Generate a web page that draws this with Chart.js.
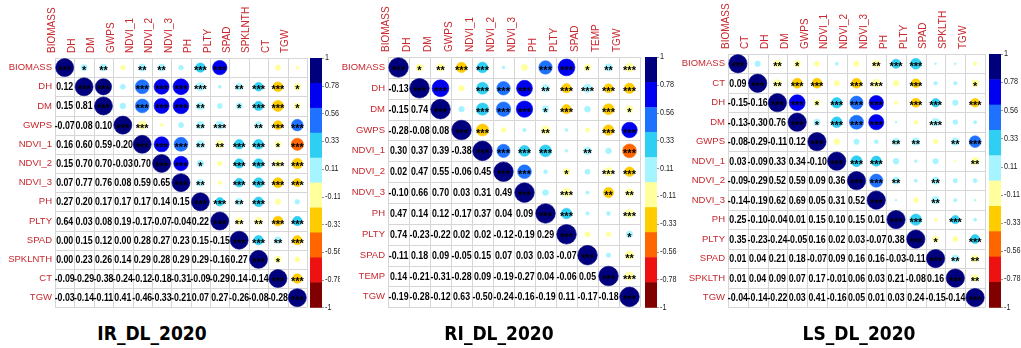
<!DOCTYPE html>
<html>
<head>
<meta charset="utf-8">
<script src="https://cdn.jsdelivr.net/npm/chart.js@4.4.0/dist/chart.umd.min.js"></script>
<style>
  html, body { margin: 0; padding: 0; background: #fff; }
  body { width: 1021px; height: 348px; position: relative; overflow: hidden; font-family: 'Liberation Sans', Arial, sans-serif; }
  .panel { position: absolute; top: 0; height: 316px; }
  .title { position: absolute; top: 322px; width: 200px; text-align: center; line-height: 26px;
           font: bold 19px 'Liberation Sans Narrow', 'DejaVu Sans Condensed', Arial, sans-serif; color: #000; }
</style>
</head>
<body>
<div class="panel" style="left:0;width:340px"><canvas id="chartIR"></canvas></div>
<div class="panel" style="left:330px;width:350px"><canvas id="chartRI"></canvas></div>
<div class="panel" style="left:680px;width:341px"><canvas id="chartLS"></canvas></div>
<div class="title" style="left:52px">IR_DL_2020</div>
<div class="title" style="left:399px">RI_DL_2020</div>
<div class="title" style="left:759px">LS_DL_2020</div>

<script>
// ---- IR_DL_2020 ----
const varsIR = ['BIOMASS', 'DH', 'DM', 'GWPS', 'NDVI_1', 'NDVI_2', 'NDVI_3', 'PH', 'PLTY', 'SPAD', 'SPKLNTH', 'CT', 'TGW'];
// lower triangle, row i holds correlations with columns 0..i-1
const corrIR = [
  [],
  [0.12],
  [0.15, 0.81],
  [-0.07, 0.08, 0.10],
  [0.16, 0.60, 0.59, -0.20],
  [0.15, 0.70, 0.70, -0.03, 0.70],
  [0.07, 0.77, 0.76, 0.08, 0.59, 0.65],
  [0.27, 0.20, 0.17, 0.17, 0.17, 0.14, 0.15],
  [0.64, 0.03, 0.08, 0.19, -0.17, -0.07, -0.04, 0.22],
  [0.00, 0.15, 0.12, 0.00, 0.28, 0.27, 0.23, 0.15, -0.15],
  [0.00, 0.23, 0.26, 0.14, 0.29, 0.28, 0.29, 0.29, -0.16, 0.27],
  [-0.09, -0.29, -0.38, -0.24, -0.12, -0.18, -0.31, -0.09, -0.29, 0.14, -0.14],
  [-0.03, -0.14, -0.11, 0.41, -0.46, -0.33, -0.21, 0.07, 0.27, -0.26, -0.08, -0.28]
];
// significance stars, upper triangle, row i holds columns i+1..n-1
const starsIR = [
  ['*', '**', '', '**', '**', '', '***', '***', '', '', '', ''],
  ['***', '', '***', '***', '***', '***', '', '**', '***', '***', '*'],
  ['', '***', '***', '***', '**', '', '*', '***', '***', '*'],
  ['***', '', '', '**', '***', '', '**', '***', '***'],
  ['***', '***', '**', '**', '***', '***', '*', '***'],
  ['***', '*', '', '***', '***', '***', '***'],
  ['**', '', '***', '***', '***', '***'],
  ['***', '**', '***', '', ''],
  ['**', '**', '***', '***'],
  ['***', '**', '***'],
  ['*', ''],
  ['***'],
  []
];

// ---- RI_DL_2020 ----
const varsRI = ['BIOMASS', 'DH', 'DM', 'GWPS', 'NDVI_1', 'NDVI_2', 'NDVI_3', 'PH', 'PLTY', 'SPAD', 'TEMP', 'TGW'];
const corrRI = [
  [],
  [-0.13],
  [-0.15, 0.74],
  [-0.28, -0.08, 0.08],
  [0.30, 0.37, 0.39, -0.38],
  [0.02, 0.47, 0.55, -0.06, 0.45],
  [-0.10, 0.66, 0.70, 0.03, 0.31, 0.49],
  [0.47, 0.14, 0.12, -0.17, 0.37, 0.04, 0.09],
  [0.74, -0.23, -0.22, 0.02, 0.02, -0.12, -0.19, 0.29],
  [-0.11, 0.18, 0.09, -0.05, 0.15, 0.07, 0.03, 0.03, -0.07],
  [0.14, -0.21, -0.31, -0.28, 0.09, -0.19, -0.27, 0.04, -0.06, 0.05],
  [-0.19, -0.28, -0.12, 0.63, -0.50, -0.24, -0.16, -0.19, 0.11, -0.17, -0.18]
];
const starsRI = [
  ['*', '**', '***', '***', '', '', '***', '***', '*', '**', '***'],
  ['***', '', '***', '***', '***', '**', '***', '***', '***', '***'],
  ['', '***', '***', '***', '*', '***', '', '***', '*'],
  ['***', '', '', '**', '', '', '***', '***'],
  ['***', '***', '***', '', '**', '', '***'],
  ['***', '', '*', '', '***', '***'],
  ['', '***', '', '**', '**'],
  ['***', '', '', '***'],
  ['', '', '*'],
  ['', '**'],
  ['***'],
  []
];

// ---- LS_DL_2020 ----
const varsLS = ['BIOMASS', 'CT', 'DH', 'DM', 'GWPS', 'NDVI_1', 'NDVI_2', 'NDVI_3', 'PH', 'PLTY', 'SPAD', 'SPKLTH', 'TGW'];
const corrLS = [
  [],
  [0.09],
  [-0.15, -0.16],
  [-0.13, -0.30, 0.76],
  [-0.08, -0.29, -0.11, 0.12],
  [0.03, -0.09, 0.33, 0.34, -0.10],
  [-0.09, -0.29, 0.52, 0.59, 0.09, 0.36],
  [-0.14, -0.19, 0.62, 0.69, 0.05, 0.31, 0.52],
  [0.25, -0.10, -0.04, 0.01, 0.15, 0.10, 0.15, 0.01],
  [0.35, -0.23, -0.24, -0.05, 0.16, 0.02, 0.03, -0.07, 0.38],
  [0.01, 0.04, 0.21, 0.18, -0.07, 0.09, 0.16, 0.16, -0.03, -0.11],
  [0.01, 0.04, 0.09, 0.07, 0.17, -0.01, 0.06, 0.03, 0.21, -0.08, 0.16],
  [-0.04, -0.14, -0.22, 0.03, 0.41, -0.16, 0.05, 0.01, 0.03, 0.24, -0.15, -0.14]
];
const starsLS = [
  ['', '**', '*', '', '', '', '**', '***', '***', '', '', ''],
  ['**', '***', '***', '', '***', '***', '', '***', '', '', '*'],
  ['***', '*', '***', '***', '***', '', '***', '***', '', '***'],
  ['*', '***', '***', '***', '', '', '***', '', ''],
  ['', '', '', '**', '**', '', '**', '***'],
  ['***', '***', '', '', '', '', '**'],
  ['***', '**', '', '**', '', ''],
  ['', '', '**', '', ''],
  ['***', '', '***', ''],
  ['*', '', '***'],
  ['**', '**'],
  ['**'],
  []
];

// colour bar: 10 bins from +1 down to -1
const binColors = ['#00007F', '#0000F0', '#1F72FF', '#2ECFF2', '#A6F4FF', '#FFFF9C', '#FFCC00', '#FF6600', '#EE1111', '#800000'];
const barTicks = ['1', '0.78', '0.56', '0.33', '0.11', '-0.11', '-0.33', '-0.56', '-0.78', '-1'];

const labelRed = '#C8282E';

function colorFor(v) {
  const idx = Math.floor((1 - v) / 0.2);
  return binColors[Math.max(0, Math.min(binColors.length - 1, idx))];
}

function cellSize(chart) {
  const xs = chart.scales.x, ys = chart.scales.y;
  return Math.min(Math.abs(xs.getPixelForValue(1) - xs.getPixelForValue(0)),
                  Math.abs(ys.getPixelForValue(1) - ys.getPixelForValue(0)));
}

// narrow text: regular font squeezed horizontally
function narrowText(ctx, text, x, y, squeeze) {
  ctx.save();
  ctx.translate(x, y);
  ctx.scale(squeeze, 1);
  ctx.fillText(text, 0, 0);
  ctx.restore();
}

// grid, numbers, stars and colour bar
const corrPlugin = {
  id: 'corrplot',
  beforeDatasetsDraw(chart, args, opts) {
    const ctx = chart.ctx, xs = chart.scales.x, ys = chart.scales.y, a = chart.chartArea;
    const n = opts.vars.length;
    ctx.save();
    ctx.strokeStyle = '#D6D6D6';
    ctx.lineWidth = 1;
    ctx.beginPath();
    for (let k = 0; k <= n; k++) {
      const px = Math.round(xs.getPixelForValue(k - 0.5)) + 0.5;
      const py = Math.round(ys.getPixelForValue(k - 0.5)) + 0.5;
      ctx.moveTo(px, a.top); ctx.lineTo(px, a.bottom);
      ctx.moveTo(a.left, py); ctx.lineTo(a.right, py);
    }
    ctx.stroke();
    ctx.restore();
  },
  afterDatasetsDraw(chart, args, opts) {
    const ctx = chart.ctx, xs = chart.scales.x, ys = chart.scales.y;
    ctx.save();
    // numbers in lower triangle
    ctx.fillStyle = '#000';
    ctx.font = 'bold 11px "Liberation Sans", Arial, sans-serif';
    ctx.textAlign = 'center';
    ctx.textBaseline = 'middle';
    opts.lower.forEach((row, i) => {
      row.forEach((v, j) => {
        narrowText(ctx, v.toFixed(2), xs.getPixelForValue(j), ys.getPixelForValue(i) + 0.5, 0.8);
      });
    });
    // stars on the circles
    ctx.font = 'bold 11px "Liberation Sans", Arial, sans-serif';
    ctx.textBaseline = 'alphabetic';
    const meta = chart.getDatasetMeta(0);
    meta.data.forEach((pt, k) => {
      const s = chart.data.datasets[0].data[k].s;
      if (s) ctx.fillText(s, pt.x, pt.y + 6.5);
    });
    ctx.restore();
  },
  afterDraw(chart, args, opts) {
    const ctx = chart.ctx, a = chart.chartArea;
    const x0 = a.right + opts.barGap, w = 12;
    const top = a.top, bottom = a.bottom;
    const h = (bottom - top) / binColors.length;
    ctx.save();
    binColors.forEach((c, k) => {
      ctx.fillStyle = c;
      ctx.fillRect(x0, top + k * h, w, h + 0.5);
    });
    ctx.fillStyle = '#222';
    ctx.strokeStyle = '#555';
    ctx.font = '8.5px "Liberation Sans", Arial, sans-serif';
    ctx.textAlign = 'left';
    ctx.textBaseline = 'middle';
    const step = (bottom - top) / (barTicks.length - 1);
    barTicks.forEach((t, k) => {
      const y = top + k * step;
      ctx.beginPath();
      ctx.moveTo(x0 + w, Math.round(y) + 0.5);
      ctx.lineTo(x0 + w + 2, Math.round(y) + 0.5);
      ctx.stroke();
      narrowText(ctx, t, x0 + w + 3, y, 0.85);
    });
    ctx.restore();
  }
};

function makePanel(canvasId, vars, lower, stars, box) {
  const n = vars.length;
  const value = (i, j) => (i === j ? 1 : (i > j ? lower[i][j] : lower[j][i]));
  const points = [];
  for (let i = 0; i < n; i++) {
    for (let j = i; j < n; j++) {
      points.push({ x: j, y: i, v: value(i, j), s: i === j ? '***' : stars[i][j - i - 1] });
    }
  }
  const tickList = vars.map((_, i) => ({ value: i }));

  return new Chart(document.getElementById(canvasId), {
    type: 'scatter',
    data: {
      datasets: [{
        data: points,
        clip: false,
        pointRadius: c => 0.47 * cellSize(c.chart) * Math.sqrt(Math.abs(c.raw.v)),
        pointBackgroundColor: c => colorFor(c.raw.v),
        pointBorderColor: c => colorFor(c.raw.v),
        pointBorderWidth: 0.6
      }]
    },
    options: {
      responsive: true,
      maintainAspectRatio: false,
      animation: false,
      events: [],
      layout: { padding: { left: 0, top: 0, right: box.padRight, bottom: box.padBottom } },
      scales: {
        x: {
          type: 'linear',
          position: 'top',
          min: -0.5,
          max: n - 0.5,
          afterBuildTicks: s => { s.ticks = tickList.map(t => ({ ...t })); },
          afterFit: s => { s.height = box.xAxisH; },
          grid: { display: false, drawTicks: false },
          border: { display: false },
          ticks: {
            autoSkip: false,
            minRotation: 90,
            maxRotation: 90,
            padding: 5,
            color: labelRed,
            font: { size: 10, family: "'Liberation Sans', Arial, sans-serif" },
            callback: v => vars[v]
          }
        },
        y: {
          type: 'linear',
          reverse: true,
          min: -0.5,
          max: n - 0.5,
          afterBuildTicks: s => { s.ticks = tickList.map(t => ({ ...t })); },
          afterFit: s => { s.width = box.yAxisW; },
          grid: { display: false, drawTicks: false },
          border: { display: false },
          ticks: {
            autoSkip: false,
            padding: 3,
            color: labelRed,
            font: { size: 9.5, family: "'Liberation Sans', Arial, sans-serif" },
            callback: v => vars[v]
          }
        }
      },
      plugins: {
        legend: { display: false },
        tooltip: { enabled: false },
        corrplot: { vars: vars, lower: lower, barGap: box.barGap }
      }
    },
    plugins: [corrPlugin]
  });
}

makePanel('chartIR', varsIR, corrIR, starsIR, { yAxisW: 55, xAxisH: 58, padRight: 33, padBottom: 2, barGap: 3 });
makePanel('chartRI', varsRI, corrRI, starsRI, { yAxisW: 58, xAxisH: 57, padRight: 40, padBottom: 2, barGap: 5 });
makePanel('chartLS', varsLS, corrLS, starsLS, { yAxisW: 48, xAxisH: 54, padRight: 36, padBottom: 2, barGap: 4 });
</script>
</body>
</html>
